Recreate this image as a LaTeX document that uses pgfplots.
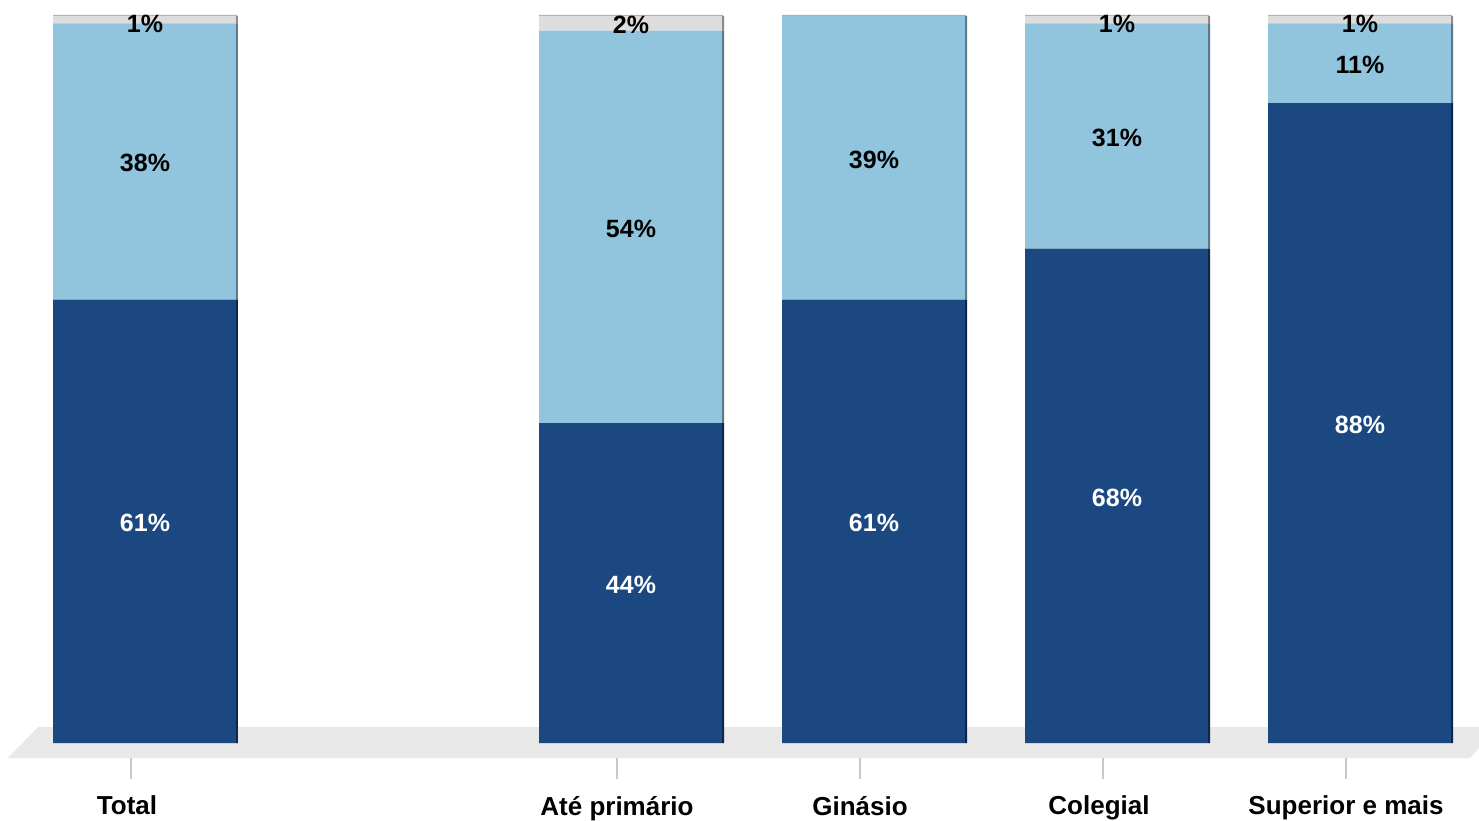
\documentclass[border=0pt]{standalone}
\usepackage{pgfplots}
\usepackage{pgfplotstable}
\pgfplotsset{compat=1.18}
\usepackage{fontspec}
\setmainfont{Liberation Sans}
\definecolor{dkblue}{HTML}{1B4881}
\definecolor{ltblue}{HTML}{91C5DE}
\definecolor{topgray}{HTML}{DDDDDD}
\definecolor{floorgray}{HTML}{E8E8E8}
\definecolor{dkshadow}{HTML}{0E2748}
\definecolor{ltshadow}{HTML}{5D7888}
\definecolor{grshadow}{HTML}{8C8C8C}
\definecolor{capgray}{HTML}{ABAFB2}
\definecolor{tickgray}{HTML}{C8C8C8}

\pgfplotstableread{
x dark light top cap
0 61 38 1 0.15
2 44 54 2 0.15
3 61 39 0 0.15
4 68 31 1 0.15
5 88 11 1 0.15
}\bars

\pgfplotstableread{
x y lab
0 80 38
0 99.2 1
2 71 54
2 99 2
3 80.5 39
4 83.5 31
4 99.2 1
5 93.5 11
5 99.2 1
}\blacklabels

\pgfplotstableread{
x y lab
0 30.5 61
2 22 44
3 30.5 61
4 34 68
5 44 88
}\whitelabels

\pgfplotsset{
  base/.style={
    at={(0,0)}, anchor=south west,
    scale only axis, width=739.5pt, height=379pt,
    xmin=-0.5967, xmax=5.4897, ymin=-2.063, ymax=102.2,
    enlargelimits=false, clip=false,
  },
}

\begin{document}
\begin{tikzpicture}
% floor axis
\begin{axis}[base, hide axis]
\fill[floorgray] (axis cs:-0.5638,-2.063) -- (axis cs:-0.4403,2.2008) -- (axis cs:5.4897,2.2008)
  -- (axis cs:5.4897,-0.6878) -- (axis cs:5.4527,-2.063) -- cycle;
\end{axis}
% main axis: bars, ticks
\begin{axis}[base,
  ybar stacked, bar width=0.757,
  axis x line*=bottom, axis y line=none,
  x axis line style={draw=none},
  xtick={-0.0576,1.9424,2.9424,3.9424,4.9424},
  xticklabels={\hspace*{-4pt}Total,Até primário,Ginásio,\hspace*{-4pt}Colegial,Superior e mais},
  tick align=outside, major tick length=10.5pt,
  major tick style={draw=tickgray, line width=0.6pt},
  xticklabel style={font=\fontsize{13}{15}\selectfont\bfseries, text=black, yshift=-5pt},
]
\addplot[fill=dkblue, draw=none] table[x=x,y=dark]{\bars};
\addplot[fill=ltblue, draw=none] table[x=x,y=light]{\bars};
\addplot[fill=topgray, draw=none] table[x=x,y=top]{\bars};
\addplot[fill=capgray, draw=none] table[x=x,y=cap]{\bars};
\end{axis}
% shadow axis
\begin{axis}[base, hide axis,
  ybar stacked, bar width=0.0082, bar shift=0.3786,
]
\addplot[fill=dkshadow, draw=none] table[x=x,y=dark]{\bars};
\addplot[fill=ltshadow, draw=none] table[x=x,y=light]{\bars};
\addplot[fill=grshadow, draw=none] table[x=x,y=top]{\bars};
\end{axis}
% labels axis
\begin{axis}[base, hide axis]
\addplot[draw=none, mark=none, nodes near coords={\pgfplotspointmeta\%},
  point meta=explicit symbolic,
  every node near coord/.style={anchor=center, yshift=-1pt, font=\fontsize{12.5}{14}\selectfont\bfseries, text=black}]
  table[x=x,y=y,meta=lab]{\blacklabels};
\addplot[draw=none, mark=none, nodes near coords={\pgfplotspointmeta\%},
  point meta=explicit symbolic,
  every node near coord/.style={anchor=center, yshift=-1pt, font=\fontsize{12.5}{14}\selectfont\bfseries, text=white}]
  table[x=x,y=y,meta=lab]{\whitelabels};
\end{axis}
\pgfresetboundingbox
\useasboundingbox (0,-31pt) rectangle (739.5pt,379pt);
\end{tikzpicture}
\end{document}
